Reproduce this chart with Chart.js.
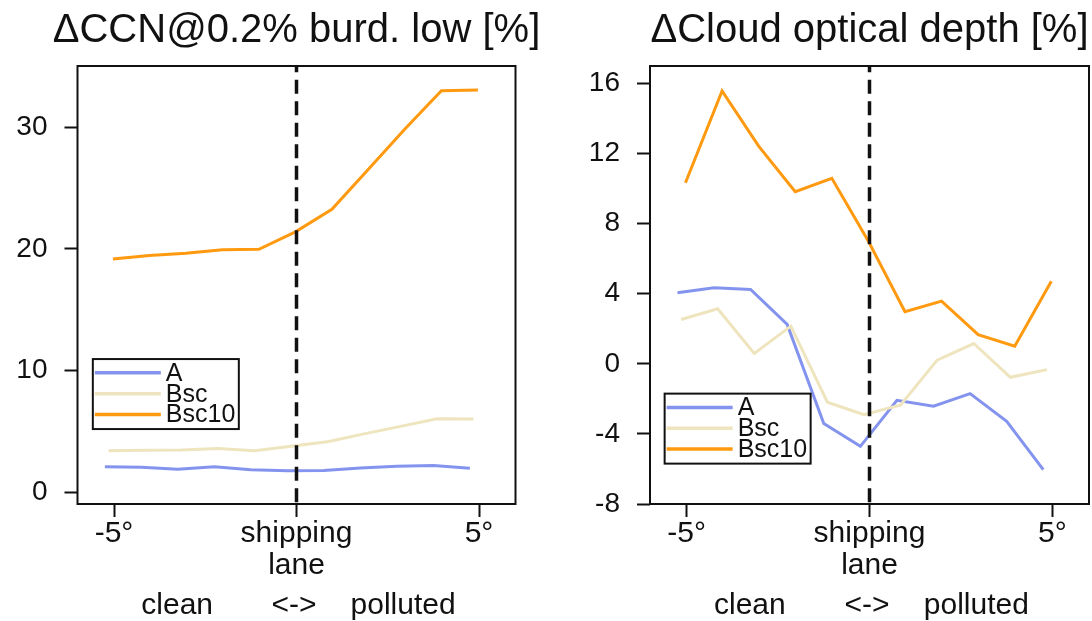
<!DOCTYPE html>
<html>
<head>
<meta charset="utf-8">
<script src="https://cdn.jsdelivr.net/npm/chart.js@4/dist/chart.umd.min.js"></script>
<style>
  body { margin: 0; background: #fff; }
  #wrap { position: relative; width: 1092px; height: 621px; }
  canvas { position: absolute; top: 0; }
</style>
</head>
<body>
<div id="wrap">
  <canvas id="ccn" width="546" height="621" style="left:0"></canvas>
  <canvas id="cod" width="546" height="621" style="left:546px"></canvas>
</div>
<script>
// latitude offset from the shipping lane (deg) for each model grid
const xA = [-5.25, -4.25, -3.25, -2.25, -1.25, -0.25, 0.75, 1.75, 2.75, 3.75, 4.75];
const xBsc = [-5.15, -4.15, -3.15, -2.15, -1.15, -0.15, 0.85, 1.85, 2.85, 3.85, 4.85];
const xBsc10 = [-5.03, -4.03, -3.03, -2.03, -1.03, -0.03, 0.97, 1.97, 2.97, 3.97, 4.97];

// delta CCN@0.2% burden low [%]
const ccnA = [2.1, 2.05, 1.9, 2.1, 1.85, 1.78, 1.8, 2.0, 2.15, 2.2, 1.97];
const ccnBsc = [3.42, 3.45, 3.48, 3.6, 3.42, 3.78, 4.16, 4.8, 5.42, 6.05, 6.02];
const ccnBsc10 = [19.17, 19.45, 19.64, 19.94, 19.97, 21.4, 23.25, 26.55, 29.85, 33.0, 33.05];

// delta cloud optical depth [%]
const codA = [4.06, 4.34, 4.25, 2.25, -3.41, -4.71, -2.08, -2.42, -1.7, -3.28, -6.04];
const codBsc = [2.53, 3.14, 0.59, 2.15, -2.19, -2.9, -2.35, 0.21, 1.16, -0.77, -0.33];
const codBsc10 = [10.34, 15.58, 12.43, 9.83, 10.59, 7.0, 2.97, 3.58, 1.67, 1.01, 4.72];

const seriesNames = ["A", "Bsc", "Bsc10"];
const xTickValues = [-5, 0, 5];
const xTickLabels = ["-5°", ["shipping", "lane"], "5°"];
const ccnTicks = [0, 10, 20, 30];
const codTicks = [-8, -4, 0, 4, 8, 12, 16];
const bottomWords = ["clean", "<->", "polluted"];
const bottomWordX = [-3.27, -0.07, 2.92];

const colors = ["#8494ee", "#eee4be", "#ff9a10"];
const FONT = '"Liberation Sans", Arial, Helvetica, sans-serif';
const INK = "#111";

function pts(xs, ys) {
	return xs.map((x, i) => ({ x: x, y: ys[i] }));
}

const panelPlugin = {
	id: "panel",
	afterDatasetsDraw(chart, args, opts) {
		const { ctx, chartArea: a, scales } = chart;
		const x0 = scales.x.getPixelForValue(0);
		ctx.save();
		ctx.strokeStyle = INK;
		ctx.lineWidth = 3.5;
		ctx.setLineDash([14, 7.5]);
		ctx.lineDashOffset = 7.7;
		ctx.beginPath();
		ctx.moveTo(x0, a.top);
		ctx.lineTo(x0, a.bottom);
		ctx.stroke();
		ctx.restore();
	},
	afterDraw(chart, args, opts) {
		const { ctx, chartArea: a, scales } = chart;
		ctx.save();

		// frame
		ctx.strokeStyle = INK;
		ctx.lineWidth = 2;
		ctx.strokeRect(a.left, a.top, a.right - a.left, a.bottom - a.top);

		// title
		ctx.fillStyle = INK;
		ctx.font = "40px " + FONT;
		ctx.textAlign = "center";
		ctx.textBaseline = "alphabetic";
		ctx.fillText(opts.title, (a.left + a.right) / 2, 42);

		// clean <-> polluted
		ctx.font = "30px " + FONT;
		bottomWords.forEach((w, i) => {
			ctx.fillText(w, scales.x.getPixelForValue(bottomWordX[i]), 614);
		});

		// legend
		const lx = scales.x.getPixelForValue(opts.legendAt[0]);
		const ly = scales.y.getPixelForValue(opts.legendAt[1]);
		ctx.fillStyle = "#fff";
		ctx.fillRect(lx, ly, 146, 70);
		ctx.strokeStyle = INK;
		ctx.lineWidth = 2;
		ctx.strokeRect(lx, ly, 146, 70);
		ctx.font = "25px " + FONT;
		ctx.textAlign = "left";
		ctx.textBaseline = "middle";
		seriesNames.forEach((name, i) => {
			const ry = ly + 13.8 + i * 20.8;
			ctx.strokeStyle = colors[i];
			ctx.lineWidth = 3.5;
			ctx.beginPath();
			ctx.moveTo(lx + 2, ry);
			ctx.lineTo(lx + 68, ry);
			ctx.stroke();
			ctx.fillStyle = INK;
			ctx.fillText(name, lx + 73, ry + 1);
		});
		ctx.restore();
	}
};

function makePanel(canvasId, ys, yMin, yMax, yTicks, title, legendAt, pad, yWidth) {
	return new Chart(document.getElementById(canvasId), {
		type: "line",
		data: {
			datasets: ys.map((vals, i) => ({
				label: seriesNames[i],
				data: pts([xA, xBsc, xBsc10][i], vals),
				borderColor: colors[i],
				borderWidth: 3,
				pointRadius: 0,
				tension: 0,
				fill: false,
				order: 2 - i
			}))
		},
		options: {
			responsive: false,
			animation: false,
			layout: { padding: pad },
			plugins: {
				legend: { display: false },
				tooltip: { enabled: false },
				panel: { title: title, legendAt: legendAt }
			},
			scales: {
				x: {
					type: "linear",
					min: -6,
					max: 6,
					afterBuildTicks: s => { s.ticks = xTickValues.map(v => ({ value: v })); },
					afterFit: s => { s.height = 117; },
					grid: { drawOnChartArea: false, tickLength: 13, tickColor: INK, tickWidth: 2 },
					border: { display: false },
					ticks: {
						autoSkip: false,
						maxRotation: 0,
						padding: 1,
						color: INK,
						font: { family: FONT, size: 30, lineHeight: 1.07 },
						callback: (v, i) => xTickLabels[i]
					}
				},
				y: {
					min: yMin,
					max: yMax,
					afterBuildTicks: s => { s.ticks = yTicks.map(v => ({ value: v })); },
					afterFit: s => { s.width = yWidth; },
					grid: { drawOnChartArea: false, tickLength: 13, tickColor: INK, tickWidth: 2 },
					border: { display: false },
					ticks: {
						padding: 17,
						color: INK,
						font: { family: FONT, size: 28 },
						callback: v => String(v)
					}
				}
			}
		},
		plugins: [panelPlugin]
	});
}

makePanel("ccn", [ccnA, ccnBsc, ccnBsc10], -0.96, 35.03, ccnTicks,
	"\u0394CCN@0.2% burd. low [%]", [-5.58, 10.95],
	{ top: 66, right: 30.5, left: 0, bottom: 0 }, 77.5);

makePanel("cod", [codA, codBsc, codBsc10], -8, 17, codTicks,
	"\u0394Cloud optical depth [%]", [-5.6, -1.7],
	{ top: 66, right: 3, left: 0, bottom: 0 }, 104);
</script>
</body>
</html>
